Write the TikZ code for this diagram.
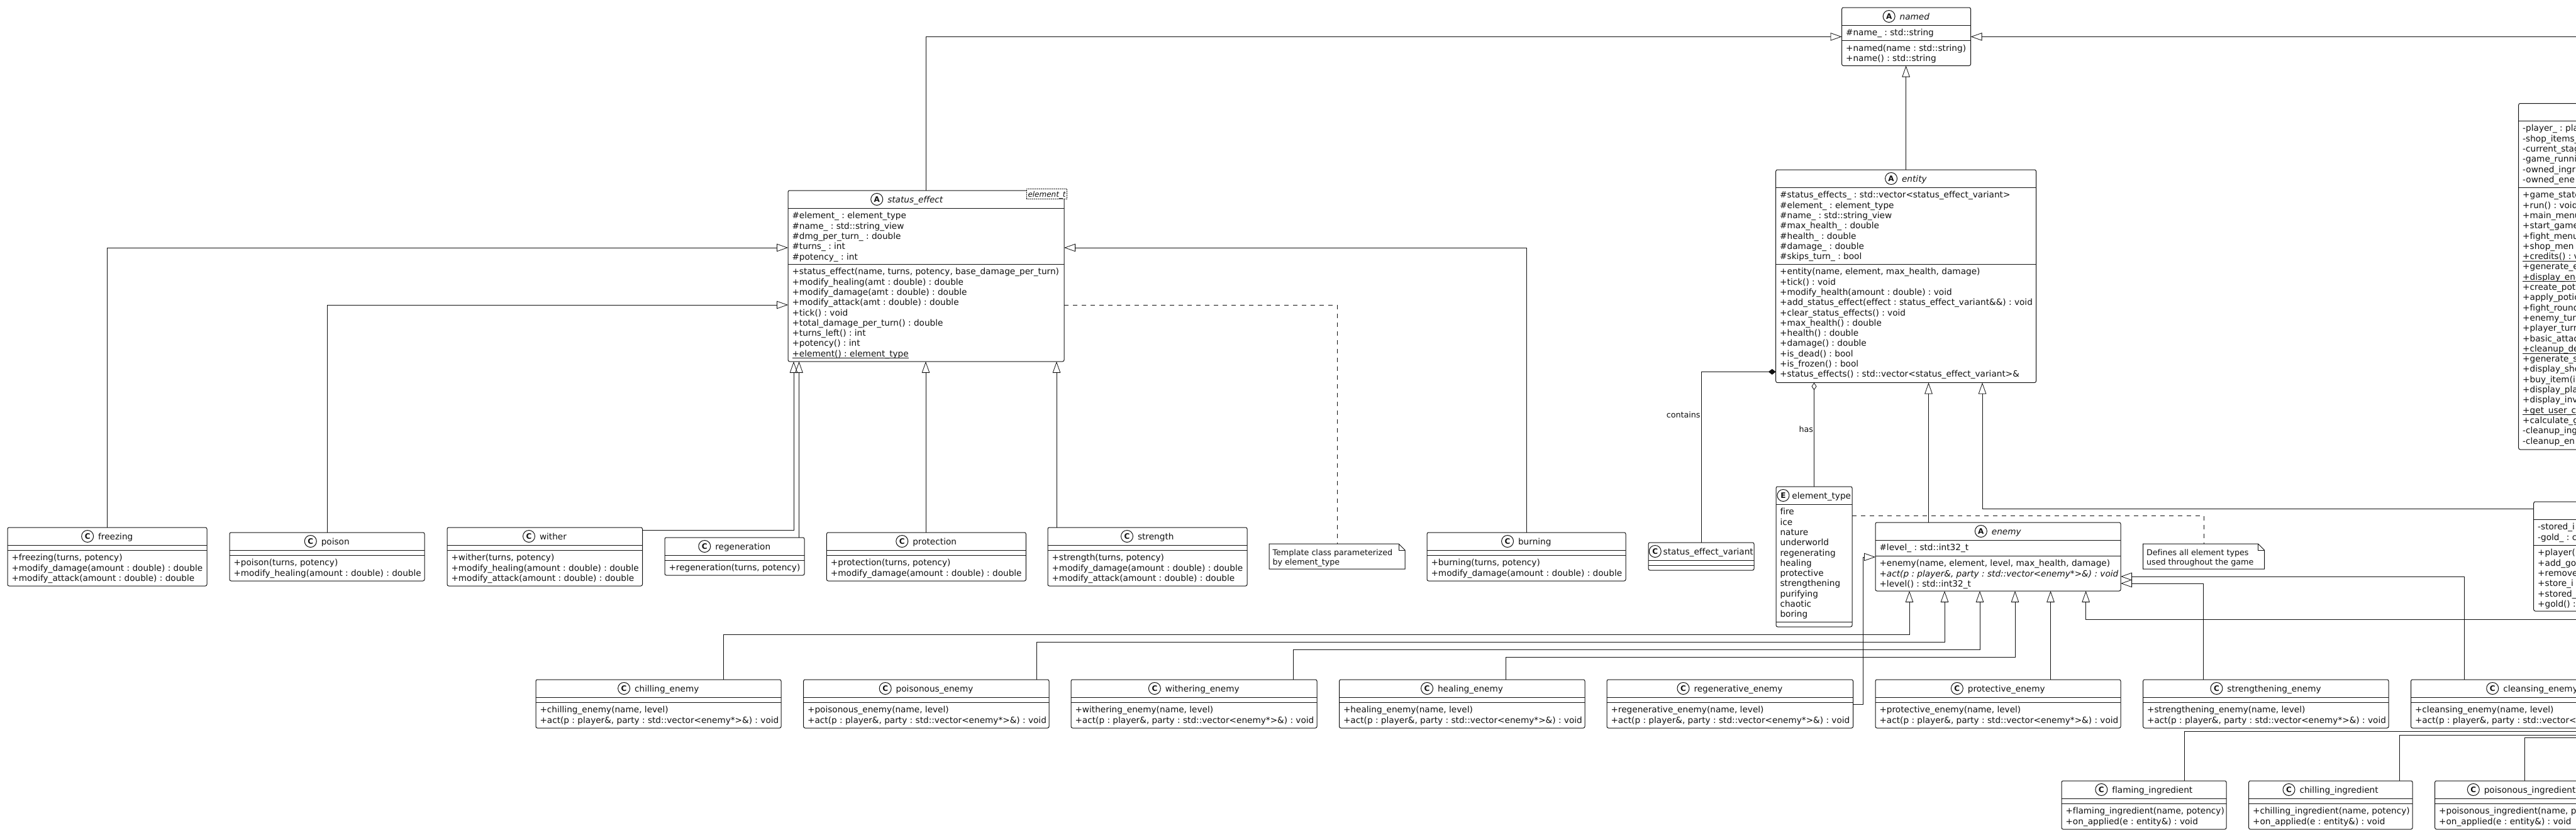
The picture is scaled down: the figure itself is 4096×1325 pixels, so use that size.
\documentclass[tikz,border=0pt]{standalone}
\usepackage{fontspec}
\usepackage{etoolbox}
\setmainfont{DejaVu Sans}[Ligatures=NoCommon]
\usetikzlibrary{arrows.meta,calc}
\definecolor{ink}{HTML}{111111}
\newcommand\memfont{\fontsize{13.65}{16}\selectfont\frenchspacing}
\newcommand\smfont{\fontsize{12.7}{15}\selectfont\frenchspacing}
\newcommand\ulrow[1]{\setbox0\hbox{#1}\rlap{\vrule width\wd0 height -2.2pt depth 3.2pt}\box0}
\tikzset{
  umlbox/.style={draw=ink,line width=1pt,fill=white,rounded corners=2.5pt,inner sep=0pt,outer sep=0pt,anchor=north west},
  sepline/.style={draw=ink,line width=1pt},
  titletext/.style={inner sep=0pt,outer sep=0pt,anchor=base,font=\memfont,text=ink},
  rowtext/.style={inner sep=0pt,outer sep=0pt,anchor=base west,font=\memfont,text=ink},
  smalltext/.style={inner sep=0pt,outer sep=0pt,anchor=base west,font=\smfont,text=ink},
  iconc/.style={circle,draw=ink,line width=1pt,fill=white,minimum size=19pt,inner sep=0pt,font=\fontsize{12}{12}\selectfont\bfseries,text=ink},
  notefill/.style={draw=ink,line width=1pt,fill=white},
  anchorbox/.style={inner sep=0pt,outer sep=0pt,anchor=north west},
  tmplbox/.style={draw=ink,line width=.9pt,dash pattern=on 1.5pt off 1.5pt,fill=white,inner sep=0pt,outer sep=0pt,anchor=north west},
  conn/.style={draw=ink,line width=.95pt},
  inh/.style={conn,-{Triangle[open,length=18pt,width=12.5pt,line width=.8pt]}},
  dep/.style={conn,dash pattern=on 7pt off 7pt},
  comp/.style={conn,-{Diamond[length=12pt,width=9pt,fill=ink]}},
  aggr/.style={conn,-{Diamond[open,length=12pt,width=8pt,line width=.8pt]}}
}
\def\getfour#1,#2,#3,#4;{\def\xa{#1}\def\ya{#2}\def\xb{#3}\def\yb{#4}}
\def\gettwo#1,#2;{\def\la{#1}\def\lb{#2}}
\def\tcxo{}
\def\icongap{17}
% name, geometry, separator lines, icon letter, title, attribute rows, method rows
\newcommand\umlclass[7]{%
  \getfour#2;\gettwo#3;%
  \pgfmathsetmacro\bw{\xb-\xa}\pgfmathsetmacro\bh{\yb-\ya}%
  \node[umlbox,minimum width=\bw pt,minimum height=\bh pt] (#1) at (\xa,\ya) {};
  \draw[sepline] (#1.west |- 0,\la) -- (#1.east |- 0,\la);
  \draw[sepline] (#1.west |- 0,\lb) -- (#1.east |- 0,\lb);
  \ifstrempty{#5}{}{%
    \ifx\tcxo\empty\pgfmathsetmacro\tcx{(\xa+\xb)/2}\else\let\tcx\tcxo\fi
    \pgfmathsetmacro\ttx{\tcx+(9.5+\icongap)/2}\pgfmathsetmacro\tty{\ya+19}\pgfmathsetmacro\icy{\ya+14}%
    \node[titletext] (#1-t) at (\ttx,\tty) {#5};
    \node[iconc] (#1-c) at ($(#1-t.west |- 0,\icy)+(-\icongap,0)$) {#4};
  }%
  \pgfmathsetmacro\rx{\xa+6.5}%
  \ifstrempty{#6}{}{%
    \foreach \rowtxt [count=\rowi] in {#6} {%
      \pgfmathsetmacro\rowy{\la+16.8+16.3*(\rowi-1)}%
      \node[rowtext] (#1-a\rowi) at (\rx,\rowy) {\rowtxt};
    }%
  }%
  \ifstrempty{#7}{}{%
    \foreach \rowtxt [count=\rowi] in {#7} {%
      \pgfmathsetmacro\rowy{\lb+16.8+16.3*(\rowi-1)}%
      \node[rowtext] (#1-m\rowi) at (\rx,\rowy) {\rowtxt};
    }%
  }%
  \def\tcxo{}\def\icongap{17}%
}
% name, geometry, first line, second line
\newcommand\umlnote[4]{%
  \getfour#2;%
  \pgfmathsetmacro\bw{\xb-\xa}\pgfmathsetmacro\bh{\yb-\ya}%
  \node[anchorbox,minimum width=\bw pt,minimum height=\bh pt] (#1) at (\xa,\ya) {};
  \draw[notefill] (#1.north west) -- ($(#1.north east)+(-10,0)$) -- ($(#1.north east)+(0,10)$) -- (#1.south east) -- (#1.south west) -- cycle;
  \draw[conn] ($(#1.north east)+(-10,0)$) -- ($(#1.north east)+(-10,10)$) -- ($(#1.north east)+(0,10)$);
  \pgfmathsetmacro\rx{\xa+5.5}\pgfmathsetmacro\ra{\ya+18}\pgfmathsetmacro\rb{\ya+33}%
  \node[smalltext] (#1-1) at (\rx,\ra) {#3};
  \node[smalltext] (#1-2) at (\rx,\rb) {#4};
}
\begin{document}
\begin{tikzpicture}[x=1pt,y=-1pt]
\useasboundingbox (0,0) rectangle (4096,1325);
\fill[white] (0,0) rectangle (4096,1325);
\clip (0,0) rectangle (4096,1325);
\coordinate (edgeR) at (4096,0);

\umlclass{named}{2928.6,12,3133.5,104.5}{40,64.5}{A}{\itshape named}
  {{\#name\_ : std::string}}
  {{+named(name : std::string)},{+name() : std::string}}

\umlclass{entity}{2823.7,270,3237.5,608.6}{298,420}{A}{\itshape entity}
  {{\#status\_effects\_ : std::vector<status\_effect\_variant>},{\#element\_ : element\_type},{\#name\_ : std::string\_view},{\#max\_health\_ : double},{\#health\_ : double},{\#damage\_ : double},{\#skips\_turn\_ : bool}}
  {{+entity(name, element, max\_health, damage)},{+tick() : void},{+modify\_health(amount : double) : void},{+add\_status\_effect(effect : status\_effect\_variant\&\&) : void},{+clear\_status\_effects() : void},{+max\_health() : double},{+health() : double},{+damage() : double},{+is\_dead() : bool},{+is\_frozen() : bool},{+status\_effects() : std::vector<status\_effect\_variant>\&}}

\def\tcxo{1442}
\umlclass{status}{1253,303,1692,575}{331,420}{A}{\itshape status\_effect}
  {{\#element\_ : element\_type},{\#name\_ : std::string\_view},{\#dmg\_per\_turn\_ : double},{\#turns\_ : int},{\#potency\_ : int}}
  {{+status\_effect(name, turns, potency, base\_damage\_per\_turn)},{+modify\_healing(amt : double) : double},{+modify\_damage(amt : double) : double},{+modify\_attack(amt : double) : double},{+tick() : void},{+total\_damage\_per\_turn() : double},{+turns\_left() : int},{+potency() : int},{\ulrow{+element() : element\_type}}}
\node[tmplbox,minimum width=64pt,minimum height=16.7pt] (stemp) at (1632,300) {};
\node[inner sep=0pt,outer sep=0pt,anchor=base west,font=\fontsize{12}{14}\selectfont\itshape,text=ink] (stemp-t) at (1634.5,313) {element\_t};

\umlclass{freezing}{12,839,329,932}{867,875}{C}{freezing}{}
  {{+freezing(turns, potency)},{+modify\_damage(amount : double) : double},{+modify\_attack(amount : double) : double}}
\umlclass{poison}{365,847,675,924}{875,883}{C}{poison}{}
  {{+poison(turns, potency)},{+modify\_healing(amount : double) : double}}
\umlclass{wither}{711,839,1021.5,932}{867,875}{C}{wither}{}
  {{+wither(turns, potency)},{+modify\_healing(amount : double) : double},{+modify\_attack(amount : double) : double}}
\umlclass{regeneration}{1057,855,1279,915}{883,891}{C}{regeneration}{}
  {{+regeneration(turns, potency)}}
\umlclass{protection}{1314.4,847,1631.4,924}{875,883}{C}{protection}{}
  {{+protection(turns, potency)},{+modify\_damage(amount : double) : double}}
\umlclass{strength}{1666,839,1983,932}{867,875}{C}{strength}{}
  {{+strength(turns, potency)},{+modify\_damage(amount : double) : double},{+modify\_attack(amount : double) : double}}
\umlnote{tnote}{2018,865,2234,905}{Template class parameterized}{by element\_type}
\umlclass{burning}{2269,847,2585,924}{875,883}{C}{burning}{}
  {{+burning(turns, potency)},{+modify\_damage(amount : double) : double}}
\def\icongap{13}
\umlclass{variant}{2621,863,2789,907}{891,899}{C}{status\_effect\_variant}{}{}
\def\icongap{14}
\umlclass{etype}{2824,774,2945,997}{802,989}{E}{element\_type}
  {{fire},{ice},{nature},{underworld},{regenerating},{healing},{protective},{strengthening},{purifying},{chaotic},{boring}}{}
\umlclass{enemy}{2982,831,3372,940}{859,884}{A}{\itshape enemy}
  {{\#level\_ : std::int32\_t}}
  {{+enemy(name, element, level, max\_health, damage)},{\itshape +act(p : player\&, party : std::vector<enemy*>\&) : void},{+level() : std::int32\_t}}
\umlnote{enote}{3407.6,865,3600.5,905}{Defines all element types}{used throughout the game}

\umlclass{chillE}{852,1081,1242,1158}{1109,1117}{C}{chilling\_enemy}{}
  {{+chilling\_enemy(name, level)},{+act(p : player\&, party : std::vector<enemy*>\&) : void}}
\umlclass{poisE}{1277.6,1081,1668,1158}{1109,1117}{C}{poisonous\_enemy}{}
  {{+poisonous\_enemy(name, level)},{+act(p : player\&, party : std::vector<enemy*>\&) : void}}
\umlclass{witherE}{1703,1081,2094,1158}{1109,1117}{C}{withering\_enemy}{}
  {{+withering\_enemy(name, level)},{+act(p : player\&, party : std::vector<enemy*>\&) : void}}
\umlclass{healE}{2129.5,1081,2520,1158}{1109,1117}{C}{healing\_enemy}{}
  {{+healing\_enemy(name, level)},{+act(p : player\&, party : std::vector<enemy*>\&) : void}}
\umlclass{regenE}{2555,1081,2946.5,1158}{1109,1117}{C}{regenerative\_enemy}{}
  {{+regenerative\_enemy(name, level)},{+act(p : player\&, party : std::vector<enemy*>\&) : void}}
\umlclass{protE}{2982,1081,3372,1158}{1109,1117}{C}{protective\_enemy}{}
  {{+protective\_enemy(name, level)},{+act(p : player\&, party : std::vector<enemy*>\&) : void}}
\umlclass{strE}{3407.6,1081,3798,1158}{1109,1117}{C}{strengthening\_enemy}{}
  {{+strengthening\_enemy(name, level)},{+act(p : player\&, party : std::vector<enemy*>\&) : void}}
\umlclass{cleE}{3833.5,1081,4219,1158}{1109,1117}{C}{cleansing\_enemy}{}
  {{+cleansing\_enemy(name, level)},{+act(p : player\&, party : std::vector<enemy*>\&) : void}}

\umlclass{flamI}{3278,1242,3540,1319}{1270,1278}{C}{flaming\_ingredient}{}
  {{+flaming\_ingredient(name, potency)},{+on\_applied(e : entity\&) : void}}
\umlclass{chillI}{3575.6,1242,3836,1319}{1270,1278}{C}{chilling\_ingredient}{}
  {{+chilling\_ingredient(name, potency)},{+on\_applied(e : entity\&) : void}}
\umlclass{poisI}{3871.6,1242,4147,1319}{1270,1278}{C}{poisonous\_ingredient}{}
  {{+poisonous\_ingredient(name, potency)},{+on\_applied(e : entity\&) : void}}

\umlclass{game}{4004.7,164.5,4320,715}{192,298}{C}{}
  {{-player\_ : pla},{-shop\_items\_},{-current\_stag},{-game\_runni},{-owned\_ingr},{-owned\_ene}}
  {{+game\_state},{+run() : void},{+main\_menu},{+start\_game},{+fight\_menu},{+shop\_men},{\ulrow{+credits() : void}},{+generate\_e},{\ulrow{+display\_ene}},{+create\_pot},{+apply\_potic},{+fight\_round},{+enemy\_tur},{+player\_turn},{+basic\_attac},{\ulrow{+cleanup\_de}},{+generate\_s},{+display\_sho},{+buy\_item(in},{+display\_pla},{+display\_inv},{\ulrow{+get\_user\_c}},{+calculate\_g},{-cleanup\_ing},{-cleanup\_en}}
\umlclass{player}{4028.7,798,4320,972}{826,867}{C}{}
  {{-stored\_i},{-gold\_ : c}}
  {{+player(n},{+add\_go},{+remove},{+store\_i},{+stored\_},{+gold() :}}

% generalisations
\draw[inh] (status.north) |- (named.west |- 0,58.4);
\draw[inh] (edgeR |- 0,58.4) -- (named.east |- 0,58.4);
\draw[inh] (entity.north) -- (entity.north |- named.south);
\draw[inh] (freezing.north) |- (status.west |- 0,394);
\draw[inh] (poison.north) |- (status.west |- 0,485);
\draw[inh] (wither.east |- 0,843) -| (status.south -| 1262,0);
\draw[inh] (regeneration.north -| 1270.5,0) -- (status.south -| 1270.5,0);
\draw[inh] (protection.north -| 1472,0) -- (status.south -| 1472,0);
\draw[inh] (strength.north -| 1680,0) -- (status.south -| 1680,0);
\draw[inh] (burning.north) |- (status.east |- 0,394);
\draw[inh] (enemy.north -| 3066.5,0) -- (entity.south -| 3066.5,0);
\draw[inh] (player.west |- 0,809.3) -| (entity.south -| 3152,0);
\draw[inh] (chillE.north -| 1150,0) |- (3036,1009) -- (enemy.south -| 3036,0);
\draw[inh] (poisE.north -| 1648,0) |- (3092,1021) -- (enemy.south -| 3092,0);
\draw[inh] (witherE.north -| 2056,0) |- (3148,1033) -- (enemy.south -| 3148,0);
\draw[inh] (healE.north -| 2394,0) |- (3204,1045) -- (enemy.south -| 3204,0);
\draw[inh] (regenE.east |- 0,1120) -| (2962.5,886) -- (enemy.west |- 0,886);
\draw[inh] (protE.north -| 3260.5,0) -- (enemy.south -| 3260.5,0);
\draw[inh] (strE.north -| 3503.5,0) |- (enemy.east |- 0,928);
\draw[inh] (cleE.north -| 3918,0) |- (enemy.east |- 0,917);
\draw[inh] (edgeR |- 0,985) -| (enemy.south -| 3316.6,0);
% ingredients leaving the picture
\draw[conn] (flamI.north -| 3473.6,0) |- (edgeR |- 0,1163);
\draw[conn] (chillI.north -| 3815,0) |- (edgeR |- 0,1169);
\draw[conn] (poisI.north -| 4014,0) |- (edgeR |- 0,1173);
% notes
\draw[dep] (status.east |- 0,485) -| (tnote.north);
\draw[dep] (etype.east |- 0,820) -| (enote.north);
% composition and aggregation
\draw[comp] (variant.north) |- (entity.west |- 0,591.4);
\draw[aggr] (etype.north) -- (entity.south -| etype.north);
\node[smalltext,anchor=base east] (lblcontains) at (2703.5,664.5) {contains};
\node[smalltext,anchor=base east] (lblhas) at (2883,687.5) {has};
\end{tikzpicture}
\end{document}
